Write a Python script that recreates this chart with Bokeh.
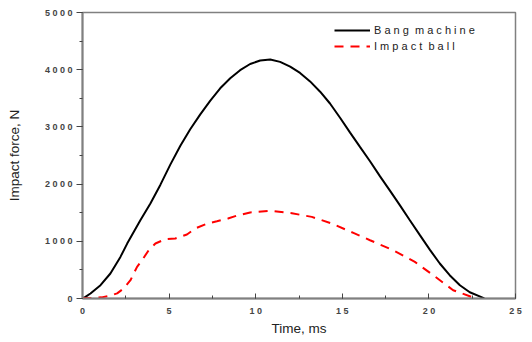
from bokeh.plotting import figure
from bokeh.models import Legend, LegendItem, SingleIntervalTicker
from bokeh.embed import file_html
from bokeh.resources import INLINE

# Bang machine (black solid)
bang_t = [0.0, 0.17, 0.46, 1.04, 1.61, 2.19, 2.58, 3.34, 3.92, 4.5, 5.07, 5.65, 6.22, 6.8, 7.38,
          7.95, 8.53, 9.1, 9.68, 10.26, 10.84, 11.41, 11.99, 12.56, 13.14, 13.72, 14.29, 14.87,
          15.45, 16.02, 16.6, 17.18, 17.75, 18.33, 18.9, 19.48, 20.06, 20.63, 21.2, 21.79, 22.36,
          23.0, 23.2]
bang_f = [0, 28, 87, 232, 437, 727, 960, 1369, 1661, 1990, 2340, 2670, 2960, 3220, 3460,
          3675, 3850, 3991, 4100, 4160, 4178, 4137, 4055, 3944, 3795, 3615, 3409, 3160,
          2900, 2650, 2400, 2135, 1885, 1628, 1369, 1107, 850, 612, 407, 232, 110,
          28, 0]

# Impact ball (red dashed)
ball_t = [0.0, 0.5, 1.1, 1.6, 2.0, 2.38, 2.77, 3.15, 3.44, 3.82, 4.21, 4.78, 5.36, 6.03, 6.51,
          7.19, 7.76, 8.4, 8.82, 9.68, 10.84, 12.09, 13.24, 14.39, 15.64, 16.6, 17.94, 19.19,
          20.25, 21.4, 22.56, 22.8]
ball_f = [10, 5, 20, 50, 90, 175, 320, 553, 670, 844, 962, 1036, 1049, 1119, 1224,
          1310, 1350, 1399, 1440, 1505, 1532, 1490, 1427, 1311, 1147, 1019, 844, 640,
          407, 145, 17, 0]

x_ticks = [0, 5, 10, 15, 20, 25]
y_ticks = [0, 1000, 2000, 3000, 4000, 5000]

p = figure(width=532, height=342, output_backend="svg", toolbar_location=None,
           x_range=(0, 25), y_range=(0, 5000),
           min_border_left=82, min_border_right=17, min_border_top=12, min_border_bottom=44)
p.background_fill_color = "white"
p.border_fill_color = "white"
p.grid.visible = False
p.outline_line_color = "#808080"
p.outline_line_width = 1.5

l1 = p.line(bang_t, bang_f, line_color="black", line_width=2)
l2 = p.line(ball_t, ball_f, line_color="red", line_width=2, line_dash="9 7")

label_font = "Liberation Sans"
for ax in (p.xaxis[0], p.yaxis[0]):
    ax.axis_line_color = "#808080"
    ax.axis_line_width = 2
    ax.major_tick_line_color = "#444444"
    ax.minor_tick_line_color = "#444444"
    ax.major_label_text_font = label_font
    ax.major_label_text_font_size = "9px"
    ax.major_label_text_font_style = "bold"
    ax.major_label_text_color = "#444444"
    ax.axis_label_text_font = label_font
    ax.axis_label_text_font_size = "13.5px"
    ax.axis_label_text_font_style = "normal"
    ax.axis_label_text_color = "#222222"

p.xaxis.ticker = SingleIntervalTicker(interval=5, num_minor_ticks=2)
p.xaxis.major_tick_in = 5
p.xaxis.major_tick_out = 0
p.xaxis.minor_tick_in = 3
p.xaxis.minor_tick_out = 0
p.xaxis.major_label_standoff = 7
p.xaxis.axis_label = "Time, ms"
p.xaxis.axis_label_standoff = 2
p.xaxis.major_label_overrides = {v: " ".join(str(v)) for v in x_ticks}

p.yaxis.ticker = SingleIntervalTicker(interval=1000, num_minor_ticks=2)
p.yaxis.major_tick_in = 0
p.yaxis.major_tick_out = 6
p.yaxis.minor_tick_in = 0
p.yaxis.minor_tick_out = 3
p.yaxis.major_label_standoff = 4
p.yaxis.axis_label = "Impact force, N"
p.yaxis.axis_label_standoff = 20
p.yaxis.major_label_overrides = {v: " ".join(str(v)) for v in y_ticks}

legend = Legend(items=[LegendItem(label="B a n g  m a c h i n e", renderers=[l1]),
                       LegendItem(label="I m p a c t  b a l l", renderers=[l2])],
                location=(252, 244))
legend.border_line_color = None
legend.background_fill_alpha = 0
legend.label_text_font = label_font
legend.label_text_font_size = "11px"
legend.label_text_color = "#222222"
legend.glyph_width = 36
legend.glyph_height = 16
legend.label_height = 16
legend.spacing = 0
legend.padding = 0
legend.margin = 0
legend.label_standoff = 4
p.add_layout(legend)

open("out.html", "w").write(file_html(p, INLINE))
